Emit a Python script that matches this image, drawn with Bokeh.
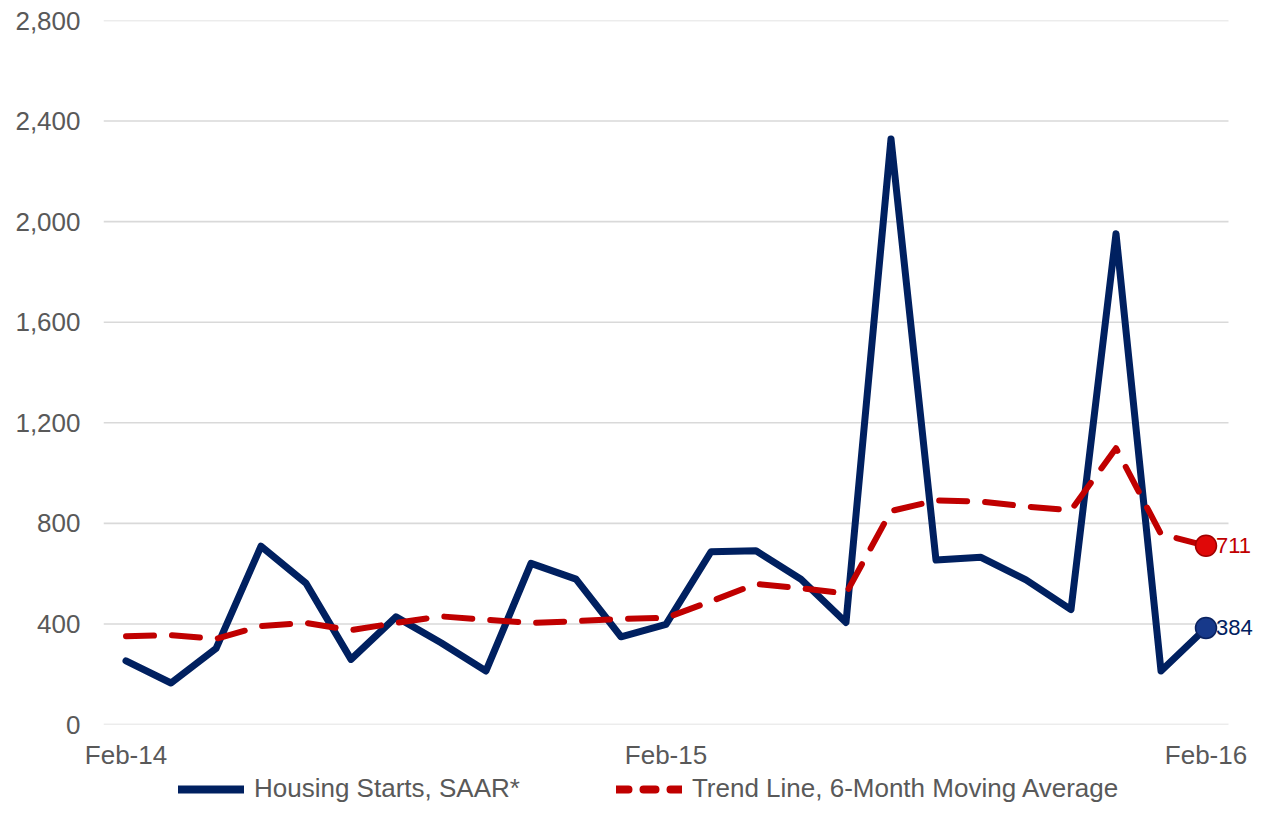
from bokeh.plotting import figure
from bokeh.layouts import column
from bokeh.models import (FixedTicker, NumeralTickFormatter, Legend, LegendItem,
                          LabelSet, ColumnDataSource, Range1d)
from bokeh.core.properties import value
from bokeh.embed import file_html
from bokeh.resources import INLINE

# ---- data ----
months = ["Feb-14", "Mar-14", "Apr-14", "May-14", "Jun-14", "Jul-14", "Aug-14", "Sep-14",
          "Oct-14", "Nov-14", "Dec-14", "Jan-15", "Feb-15", "Mar-15", "Apr-15", "May-15",
          "Jun-15", "Jul-15", "Aug-15", "Sep-15", "Oct-15", "Nov-15", "Dec-15", "Jan-16",
          "Feb-16"]
housing_starts = [253, 165, 302, 709, 562, 259, 428, 325, 213, 641, 578, 349, 398,
                  687, 691, 578, 406, 2329, 654, 665, 575, 457, 1952, 213, 384]
trend_6m_avg = [351, 355, 341, 391, 404, 375, 404, 430, 417, 404, 411, 420, 424,
                490, 559, 542, 521, 849, 891, 887, 867, 852, 1099, 757, 711]
y_ticks = [0, 400, 800, 1200, 1600, 2000, 2400, 2800]
x_tick_labels = ["Feb-14", "Feb-15", "Feb-16"]
series_names = ["Housing Starts, SAAR*", "Trend Line, 6-Month Moving Average"]

NAVY = "#002060"
RED = "#C00000"
GRAY_TXT = "#595959"
GRID = "#D9D9D9"
FONT = "Liberation Sans"
NAN = float("nan")

# ---- layout (pixels) ----
W = 1254
LEFT, TOP, FRAME_H, AXIS_H = 103, 20, 706, 46
LEG_H = 32
PLOT_W = 1125                 # width of the month band [-0.5, n-0.5]
EXTRA_R = W - LEFT - PLOT_W   # room on the right for the end labels

n = len(months)
x = list(range(n))
tick_pos = [months.index(m) for m in x_tick_labels]
px_per_month = PLOT_W / n
x_start = -0.5
x_end = n - 0.5 + EXTRA_R / px_per_month

p = figure(width=W, height=TOP + FRAME_H + AXIS_H, output_backend="svg",
           toolbar_location=None,
           x_range=Range1d(x_start, x_end), y_range=Range1d(y_ticks[0], y_ticks[-1]),
           min_border_left=LEFT, min_border_right=0, min_border_top=TOP,
           min_border_bottom=AXIS_H)
p.outline_line_color = None
p.background_fill_color = "white"
p.border_fill_color = "white"
p.xgrid.visible = False
p.ygrid.visible = False

# horizontal gridlines, only across the month band
p.segment(x0=[x_start] * len(y_ticks), x1=[n - 0.5] * len(y_ticks),
          y0=y_ticks, y1=y_ticks, line_color=GRID, line_width=1.6)

p.yaxis.ticker = FixedTicker(ticks=y_ticks)
p.yaxis.formatter = NumeralTickFormatter(format="0,0")
p.xaxis.ticker = FixedTicker(ticks=tick_pos)
p.xaxis.major_label_overrides = {pos: lab for pos, lab in zip(tick_pos, x_tick_labels)}

for ax in (p.xaxis[0], p.yaxis[0]):
    ax.axis_line_color = None
    ax.major_tick_line_color = None
    ax.minor_tick_line_color = None
    ax.major_tick_out = 0
    ax.major_tick_in = 0
    ax.major_label_text_font = FONT
    ax.major_label_text_font_size = "26px"
    ax.major_label_text_color = GRAY_TXT
p.yaxis.major_label_standoff = 23
p.xaxis.major_label_standoff = 15

src = ColumnDataSource(dict(x=x, starts=housing_starts, trend=trend_6m_avg))

p.line("x", "starts", source=src, line_color=NAVY, line_width=7,
       line_join="round", line_cap="round")
p.line("x", "trend", source=src, line_color=RED, line_width=6,
       line_dash="28 18", line_join="round", line_cap="round")

# end markers and value labels
end_src = ColumnDataSource(dict(x=[x[-1], x[-1]],
                                y=[trend_6m_avg[-1], housing_starts[-1]],
                                txt=[f"{trend_6m_avg[-1]:,}", f"{housing_starts[-1]:,}"],
                                fill=["#E00808", "#17398A"],
                                edge=["#A00000", "#0A2260"],
                                col=[RED, NAVY]))
p.scatter("x", "y", source=end_src, size=21, fill_color="fill", line_color="edge",
          line_width=1.5)
p.add_layout(LabelSet(x="x", y="y", text="txt", source=end_src, x_offset=10,
                      text_baseline="middle", text_align="left", text_color="col",
                      text_font=value(FONT), text_font_size=value("22px")))

# ---- legend strip (separate figure under the chart) ----
lg = figure(width=W, height=LEG_H, output_backend="svg", toolbar_location=None,
            x_range=Range1d(0, 1), y_range=Range1d(0, 1),
            x_axis_location=None, y_axis_location=None,
            min_border_left=0, min_border_right=0, min_border_top=0, min_border_bottom=0)
lg.outline_line_color = None
lg.xgrid.visible = False
lg.ygrid.visible = False
leg_starts = lg.line([NAN], [NAN], line_color=NAVY, line_width=8, line_cap="round")
leg_trend = lg.line([NAN], [NAN], line_color=RED, line_width=8, line_dash="12 15",
                    line_cap="round")
legend = Legend(items=[LegendItem(label=series_names[0], renderers=[leg_starts]),
                       LegendItem(label=series_names[1], renderers=[leg_trend])],
                orientation="horizontal", location=(178 - LEFT, 0),
                label_text_font=FONT, label_text_font_size="26px",
                label_text_color=GRAY_TXT, glyph_width=66, glyph_height=30,
                label_standoff=10, spacing=96, padding=0, margin=0,
                border_line_color=None, background_fill_alpha=0)
lg.add_layout(legend, "center")

layout = column(p, lg, spacing=0)
open("out.html", "w").write(file_html(layout, INLINE))
